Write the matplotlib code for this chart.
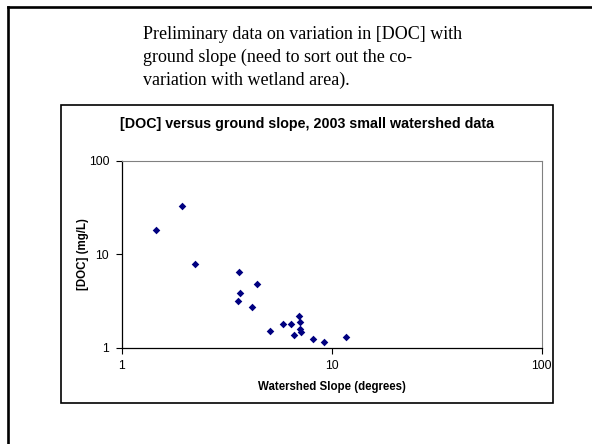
import matplotlib
matplotlib.use("Agg")
import matplotlib.pyplot as plt
from matplotlib.lines import Line2D
from matplotlib.patches import Rectangle
from matplotlib.ticker import NullLocator

# watershed slope (degrees) and [DOC] (mg/L)
slope = [1.45, 1.94, 2.23, 3.63, 4.39, 3.66, 3.57, 4.17, 5.10, 5.88,
         6.38, 6.59, 6.96, 7.06, 7.06, 7.14, 8.12, 9.16, 11.74]
doc = [18.2, 32.8, 7.85, 6.45, 4.84, 3.85, 3.16, 2.72, 1.50, 1.78,
       1.78, 1.38, 2.17, 1.88, 1.58, 1.46, 1.25, 1.14, 1.30]

tick_vals = [1, 10, 100]
tick_labels = ["1", "10", "100"]

W, H = 592, 444
fig = plt.figure(figsize=(W / 100, H / 100), dpi=100)

# slide border (runs off right and bottom)
fig.add_artist(Line2D([7.5 / W, 7.5 / W], [0, 1 - 7.5 / H], transform=fig.transFigure,
                      color="black", lw=1.9))
fig.add_artist(Line2D([7.5 / W, 1], [1 - 7.5 / H, 1 - 7.5 / H], transform=fig.transFigure,
                      color="black", lw=1.9))

# slide text
fig.text(143 / W, 1 - 26 / H,
         "Preliminary data on variation in [DOC] with\nground slope (need to sort out the co-\nvariation with wetland area).",
         family="Liberation Serif", fontsize=13, va="top", ha="left", linespacing=1.42)

# chart area box
fig.add_artist(Rectangle((60.7 / W, 1 - 403 / H), 492 / W, 298 / H, transform=fig.transFigure,
                         fill=False, edgecolor="black", lw=1.2))

fig.text(306.7 / W, 1 - 124 / H, "[DOC] versus ground slope, 2003 small watershed data",
         family="Liberation Sans", fontweight="bold", fontsize=10.3, ha="center", va="center")

ax = fig.add_axes([121.7 / W, 1 - 347.7 / H, 420 / W, 187 / H])
ax.scatter(slope, doc, marker="D", s=15, color="#000080", linewidths=0, zorder=3)
ax.set_xscale("log")
ax.set_yscale("log")
ax.set_xlim(1, 100)
ax.set_ylim(1, 100)

ax.set_xticks(tick_vals)
ax.set_xticklabels(tick_labels)
ax.set_yticks(tick_vals)
ax.set_yticklabels(tick_labels)
ax.xaxis.set_minor_locator(NullLocator())
ax.yaxis.set_minor_locator(NullLocator())
ax.tick_params(direction="out", length=4, width=0.8, labelsize=8.8, pad=5)
for lab in ax.get_xticklabels() + ax.get_yticklabels():
    lab.set_family("Liberation Sans")

ax.spines["left"].set_color("black")
ax.spines["bottom"].set_color("black")
ax.spines["left"].set_linewidth(0.9)
ax.spines["bottom"].set_linewidth(0.9)
ax.spines["top"].set_color("#808080")
ax.spines["right"].set_color("#808080")
ax.spines["top"].set_linewidth(0.8)
ax.spines["right"].set_linewidth(0.8)

ax.set_xlabel("Watershed Slope (degrees)", family="Liberation Sans", fontweight="bold",
              fontsize=8.3, labelpad=6)
ax.set_ylabel("[DOC] (mg/L)", family="Liberation Sans", fontweight="bold", fontsize=8.3)
ax.yaxis.set_label_coords((89 - 121.7) / 420, 0.5)

fig.savefig("out.png", dpi=100)
